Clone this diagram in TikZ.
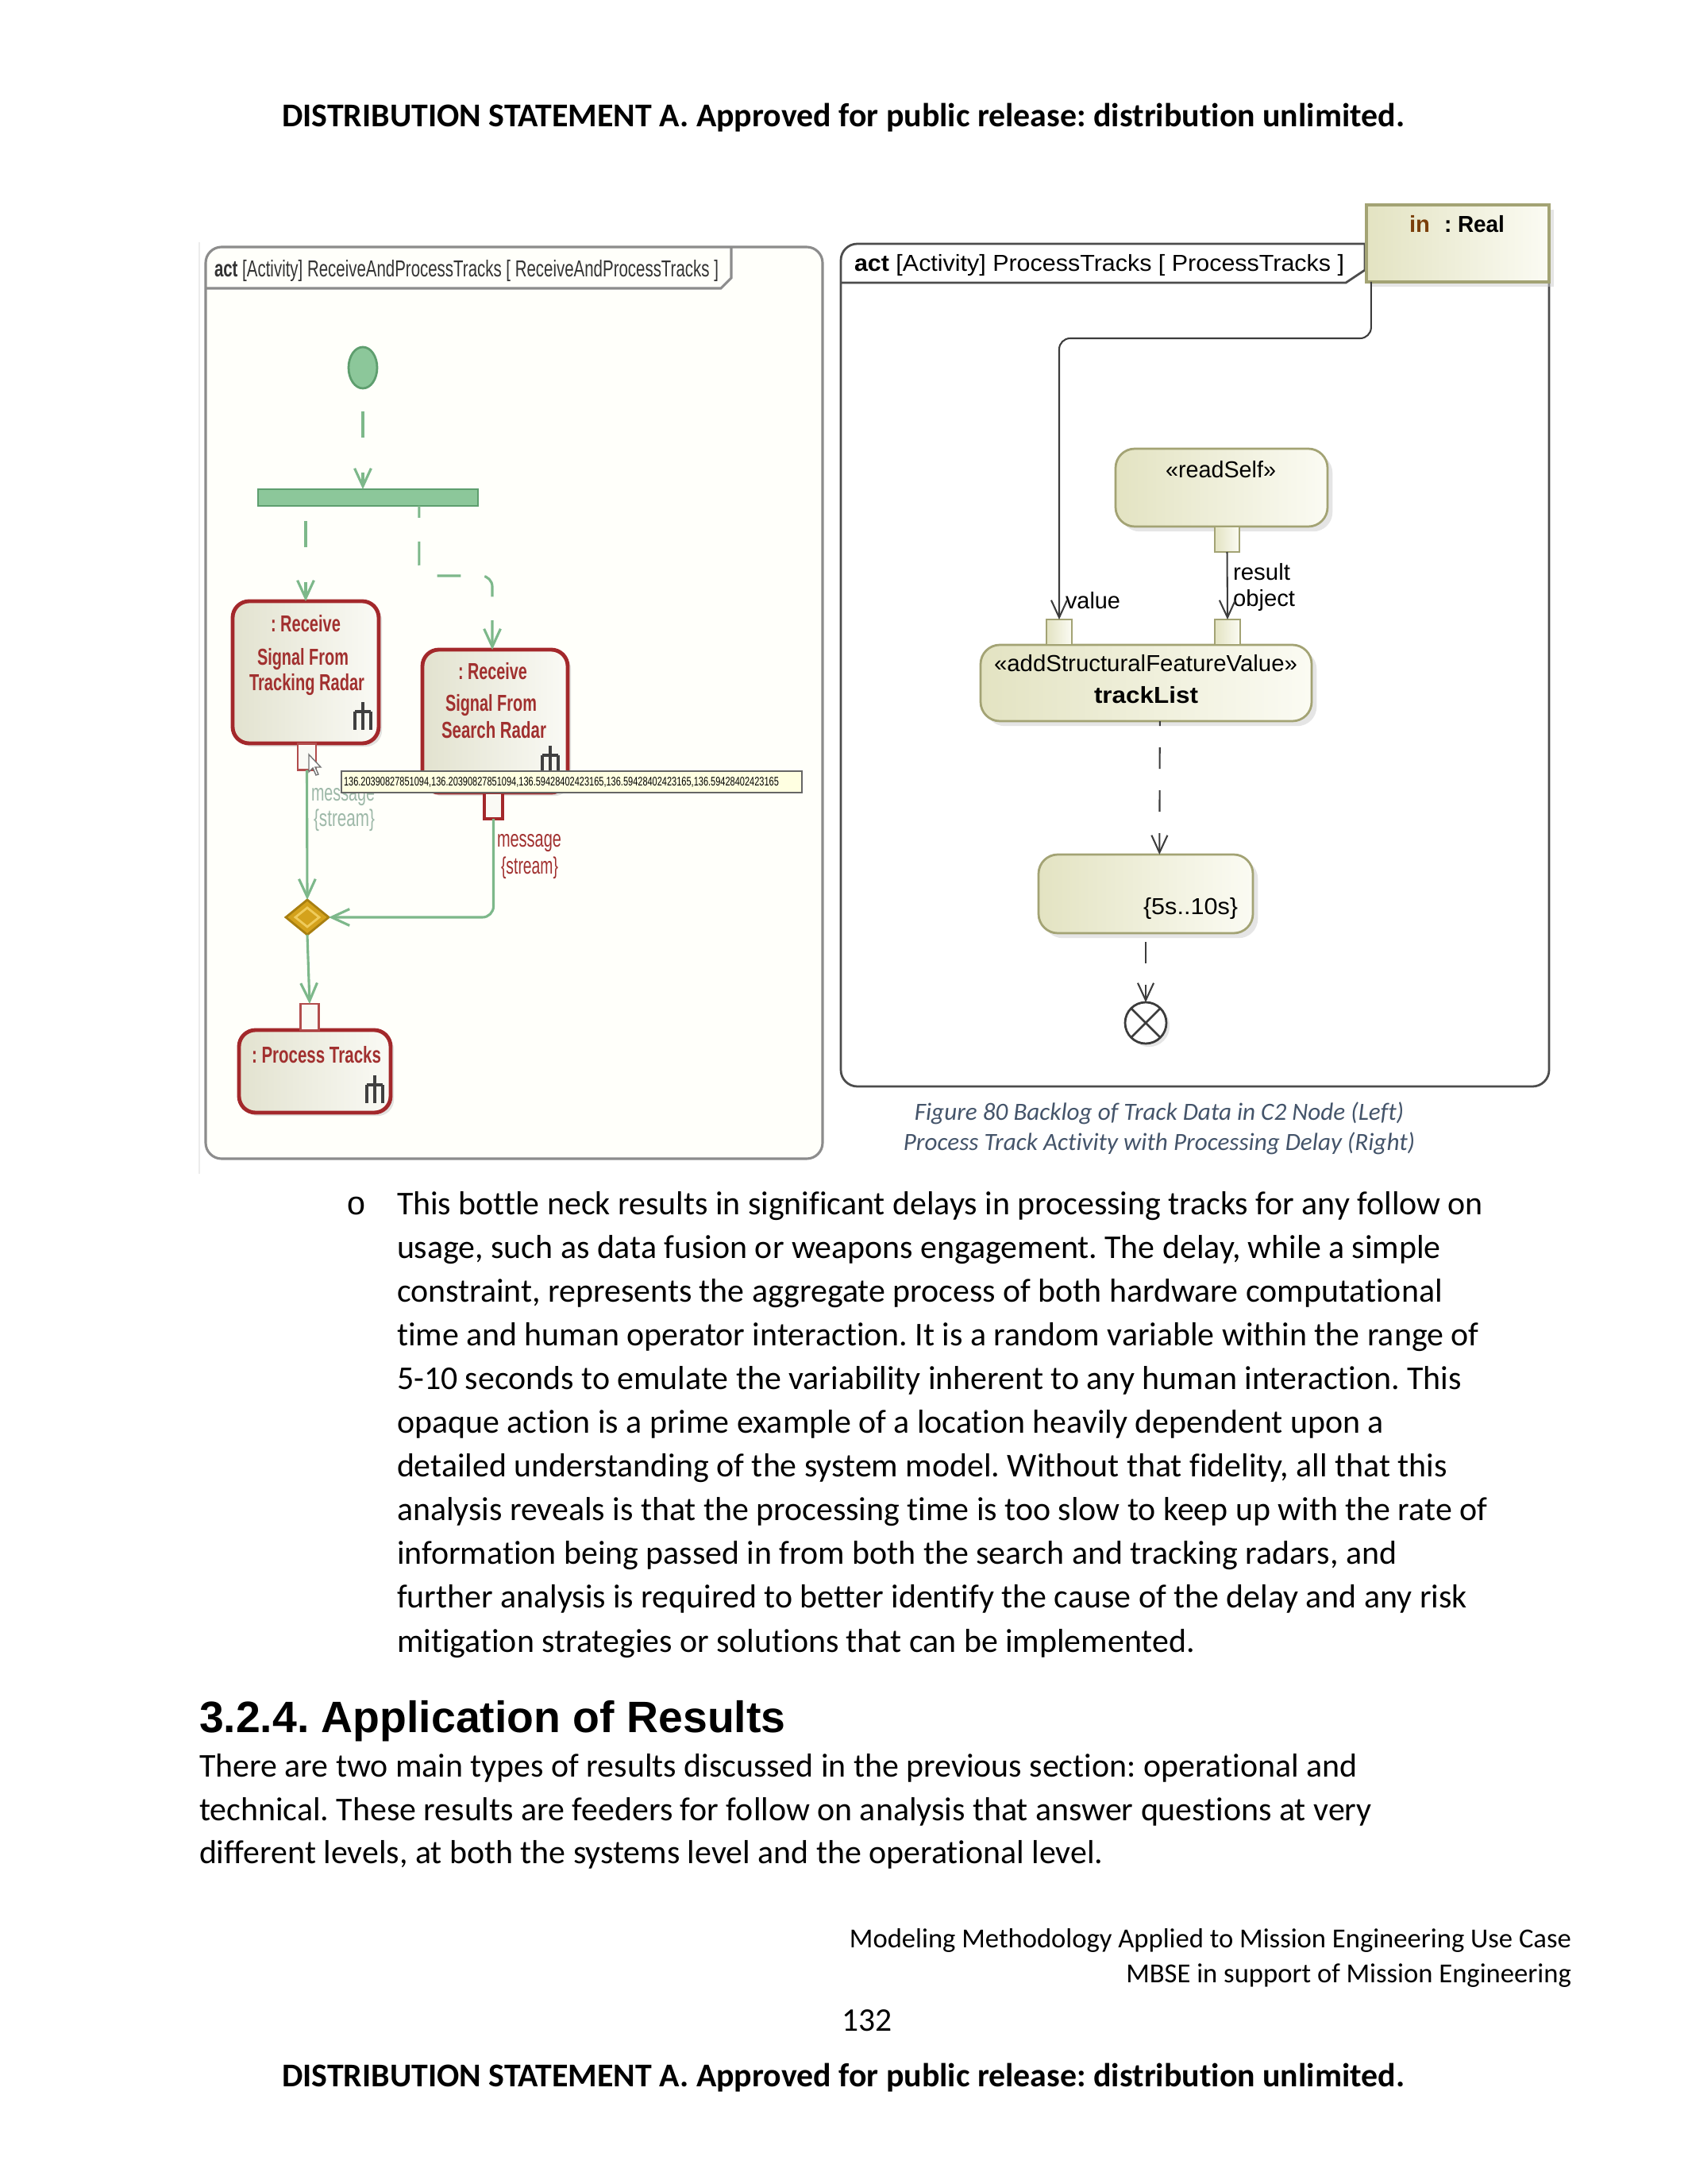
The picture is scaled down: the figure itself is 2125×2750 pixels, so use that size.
\documentclass[tikz,border=0pt]{standalone}
\usepackage{fontspec}
\usepackage{graphicx}
\setmainfont[Ligatures={NoCommon,NoContextual}]{Carlito}
\newfontfamily\arialf{Liberation Sans}
\newfontfamily\monof{Liberation Mono}
\usetikzlibrary{arrows.meta,shadows,shapes.geometric,calc}
\frenchspacing
\newlength{\pxu}\setlength{\pxu}{0.004in}
\newcommand{\fitw}[2]{\resizebox{#1\pxu}{\height}{#2}}
\definecolor{capblue}{HTML}{44546A}
\definecolor{lgreen}{HTML}{7DB88A}
\definecolor{dgreen}{HTML}{5E9E6E}
\definecolor{gfill}{HTML}{8CC79A}
\definecolor{rred}{HTML}{A3282B}
\definecolor{redtxt}{HTML}{A1302F}
\definecolor{olivec}{HTML}{A3A374}
\definecolor{beigec}{HTML}{E3E3C2}
\definecolor{lbeigec}{HTML}{FBFBF3}
\definecolor{lbox1}{HTML}{E2E2CF}
\definecolor{lbox2}{HTML}{FAFAF5}
\definecolor{flowgray}{HTML}{3C3C3C}
\definecolor{brownin}{HTML}{7A3E0A}
\definecolor{goldc}{HTML}{D4A21C}
\definecolor{goldd}{HTML}{A87F10}
\definecolor{goldl}{HTML}{EFCB5C}
\definecolor{ttfill}{HTML}{FFFFE1}
\definecolor{lframec}{HTML}{8C8C8C}
\definecolor{fadetxt}{HTML}{9DB8A8}
\newcommand{\rakeicon}[2]{\draw[draw=black!75, line width=1.1pt] (#1,#2-20) -- (#1,#2+15) (#1-10,#2-8) -- (#1+10,#2-8) (#1-10,#2-8) -- (#1-10,#2+15) (#1+10,#2-8) -- (#1+10,#2+15);}
\begin{document}
\begin{tikzpicture}[x=0.004in,y=-0.004in,
  every node/.style={inner sep=0pt, outer sep=0pt},
  bodytxt/.style={anchor=base west, font=\fontsize{12.1}{14}\selectfont},
  hdrtxt/.style={anchor=base, font=\bfseries\fontsize{12.1}{14}\selectfont},
  foottxt/.style={anchor=base east, font=\fontsize{10}{12}\selectfont},
  captxt/.style={anchor=base, text=capblue, font=\itshape\fontsize{9}{11}\selectfont},
  lframe/.style={draw=lframec, line width=0.9pt, fill=white!98!yellow, rounded corners=5.8pt},
  lact/.style={rectangle, draw=rred, line width=1.4pt, rounded corners=6pt, left color=lbox1, right color=lbox2,
     drop shadow={shadow xshift=1.2pt, shadow yshift=-1.2pt, fill=gray!45}},
  lpin/.style={rectangle, draw=gray!60!red, line width=0.8pt, fill=lbox2, minimum width=23\pxu, minimum height=33\pxu},
  lflow/.style={draw=lgreen, line width=0.9pt, -{Straight Barb[length=6.5pt,width=6pt,line width=0.9pt]}},
  ldash/.style={lflow, dash pattern=on 9.5pt off 12.7pt},
  lbxtxt/.style={anchor=base, text=redtxt, font=\arialf\bfseries\fontsize{8.4}{10}\selectfont},
  llab/.style={anchor=base west, font=\arialf\fontsize{8.6}{10}\selectfont},
  rframe/.style={draw=black!70, line width=0.8pt, rounded corners=6pt, fill=white},
  ract/.style={rectangle, draw=olivec, line width=0.8pt, rounded corners=7pt, left color=beigec, right color=lbeigec,
     drop shadow={shadow xshift=1.8pt, shadow yshift=-1.8pt, fill=gray!40}},
  rpin/.style={rectangle, draw=olivec, line width=0.8pt, left color=beigec, right color=lbeigec, minimum width=32\pxu, minimum height=32\pxu},
  rflow/.style={draw=flowgray, line width=0.6pt, -{Straight Barb[length=6.3pt,width=5.8pt,line width=0.6pt]}},
  rdash/.style={rflow, dash pattern=on 7.8pt off 7.8pt},
  rtxt/.style={anchor=base, font=\arialf\fontsize{8.4}{10}\selectfont},
  rlab/.style={anchor=base west, font=\arialf\fontsize{8.4}{10}\selectfont}
]
\useasboundingbox (0,0) rectangle (2125,2750);
\fill[white] (0,0) rectangle (2125,2750);

% ---------- header ----------
\node[hdrtxt] (hdr) at (1062,160) {DISTRIBUTION STATEMENT A. Approved for public release: distribution unlimited.};

% ---------- left diagram ----------
\draw[gray!15, line width=0.5pt] (251,305) -- (251,1478);
\node[lframe, minimum width=777\pxu, minimum height=1148\pxu] (lfr) at (647.5,885) {};
\draw[draw=lframec, line width=0.9pt] (lfr.west |- 0,363) -- (908,363) -- (921,350) -- (921,311);
\node[font=\arialf\fontsize{8.4}{10}\selectfont, text=black!80, anchor=base west] (ltab) at (270,349)
  {\fitw{635}{\textbf{act} [Activity] ReceiveAndProcessTracks [ ReceiveAndProcessTracks ]}};

\node[ellipse, fill=gfill, draw=dgreen, line width=0.8pt, minimum width=36\pxu, minimum height=52\pxu] (init) at (457,463) {};
\node[rectangle, fill=gfill, draw=dgreen, line width=0.5pt, minimum width=277\pxu, minimum height=21\pxu] (fork) at (463.5,626.5) {};

\node[lact, minimum width=184\pxu, minimum height=179\pxu] (b1) at (385,846.5) {};
\node[lact, minimum width=183\pxu, minimum height=180\pxu] (b2) at (623.5,908) {};
\node[lact, minimum width=191\pxu, minimum height=104\pxu] (b3) at (396.5,1349) {};

\node[lbxtxt] (b1a) at (385,795) {\fitw{88}{: Receive}};
\node[lbxtxt] (b1b) at (381.5,837) {\fitw{115}{Signal From}};
\node[lbxtxt] (b1c) at (386.5,869) {\fitw{145}{Tracking Radar}};
\node[lbxtxt] (b2a) at (620.5,855) {\fitw{87}{: Receive}};
\node[lbxtxt] (b2b) at (618.5,895) {\fitw{115}{Signal From}};
\node[lbxtxt] (b2c) at (622,929) {\fitw{132}{Search Radar}};
\node[lbxtxt] (b3a) at (398.5,1338) {\fitw{163}{: Process Tracks}};
\rakeicon{457}{904}
\rakeicon{693}{959}
\rakeicon{472}{1374}

\node[lpin] (p1) at (386.5,953) {};
\node[lpin, draw=rred, line width=1.2pt] (p2) at (621.5,1014.5) {};
\node[lpin] (p3) at (390,1280.5) {};

\node[diamond, fill=goldc, draw=goldd, line width=0.8pt, minimum width=54\pxu, minimum height=44\pxu] (dec) at (387,1155) {};
\node[diamond, draw=goldl, line width=0.8pt, minimum width=30\pxu, minimum height=24\pxu] (decin) at (387,1155) {};

\draw[ldash, dash phase=13.8pt] (init.south) -- (fork.north -| init.south);
\draw[ldash, dash phase=16.7pt] (fork.south -| b1.north) -- (b1.north);
\draw[ldash, dash pattern=on 8.64pt off 8.64pt, dash phase=4.32pt, rounded corners=4pt] ([xshift=18.6pt]fork.south) -- ++(0,88) -| ([xshift=-1pt]b2.north);
\draw[lflow] (p1.south) -- (dec.north);
\draw[lflow, rounded corners=4pt] (p2.south) |- (dec.east);
\draw[lflow] (dec.south) -- (p3.north);

\node[llab, text=fadetxt] (m1a) at (392,1008) {\fitw{80}{message}};
\node[llab, text=fadetxt] (m1b) at (395,1040) {\fitw{77}{\{stream\}}};
\node[llab, text=redtxt] (m2a) at (626,1066) {\fitw{81}{message}};
\node[llab, text=redtxt] (m2b) at (631,1100) {\fitw{72}{\{stream\}}};

\node[rectangle, fill=ttfill, draw=black!60, line width=0.5pt, minimum width=580\pxu, minimum height=27\pxu] (tt) at (720,984.5) {};
\node[font=\arialf\fontsize{4.5}{5}\selectfont, anchor=west] (ttt) at (433,985)
  {\fitw{548}{136.20390827851094,136.20390827851094,136.59428402423165,136.59428402423165,136.59428402423165}};
\draw[fill=white, draw=black!55, line width=0.4pt] (389,950) -- (389,972) -- (394,967) -- (398,976) -- (401,975) -- (397,966) -- (404,966) -- cycle;

% ---------- right diagram ----------
\node[rframe, minimum width=892\pxu, minimum height=1061\pxu] (rfr) at (1505,837.5) {};
\draw[draw=black!70, line width=0.8pt] (1059,356) -- (1695,356) -- (1719,340) -- (1719,307);
\node[rtxt, anchor=base west] (rtab) at (1076,342)
  {\fitw{617}{\textbf{act} [Activity] ProcessTracks [ ProcessTracks ]}};
\node[rectangle, draw=olivec, line width=1pt, left color=beigec, right color=lbeigec,
  minimum width=230\pxu, minimum height=97\pxu,
  drop shadow={shadow xshift=1.6pt, shadow yshift=-1.6pt, fill=gray!40}] (inpin) at (1836,306.5) {};
\node[rtxt, anchor=base west, text=brownin] (intx) at (1775,293) {\fitw{26}{\textbf{in}}};
\node[rtxt, anchor=base west] (realtx) at (1819,293) {\fitw{76}{\textbf{: Real}}};

\node[ract, minimum width=267\pxu, minimum height=98\pxu] (rs) at (1538.5,614) {};
\node[rpin, minimum width=31\pxu] (rsp) at (1545.5,679) {};
\node[ract, minimum width=417\pxu, minimum height=96\pxu] (asf) at (1443.5,860) {};
\node[rpin] (pv) at (1334,796) {};
\node[rpin] (pobj) at (1546,796) {};
\node[ract, minimum width=270\pxu, minimum height=99\pxu] (ob) at (1443,1125.5) {};
\node[circle, draw=flowgray, line width=0.8pt, fill=white, minimum size=52\pxu,
  drop shadow={shadow xshift=1.2pt, shadow yshift=-1.2pt, fill=gray!40}] (ff) at (1443,1288) {};
\draw[flowgray, line width=0.8pt] (ff.north west) -- (ff.south east) (ff.north east) -- (ff.south west);

\node[rtxt] (rst) at (1537.5,602) {\fitw{139}{«readSelf»}};
\node[rtxt] (asft) at (1443,845) {\fitw{382}{«addStructuralFeatureValue»}};
\node[rtxt] (tlt) at (1443.5,885) {\fitw{131}{\textbf{trackList}}};
\node[rlab] (obt) at (1440,1151) {\fitw{119}{\{5s..10s\}}};
\node[rlab] (vlab) at (1342,766) {\fitw{69}{value}};
\node[rlab] (rlab1) at (1553,730) {\fitw{72}{result}};
\node[rlab] (rlab2) at (1553,764) {\fitw{78}{object}};

\draw[rflow, rounded corners=4pt] ([xshift=1.7pt]inpin.south west) -- ++(0,71) -| (pv.north);
\draw[rflow] (rsp.south) -- (pobj.north);
\draw[rdash, dash phase=6pt] ([xshift=5pt]asf.south) -- ([xshift=5pt]ob.north);
\draw[rdash, dash phase=12.4pt] (ob.south) -- (ff.north);

% ---------- caption ----------
\node[captxt] (cap1) at (1460,1410) {Figure 80 Backlog of Track Data in C2 Node (Left)};
\node[captxt] (cap2) at (1460,1448) {Process Track Activity with Processing Delay (Right)};

% ---------- bullet text ----------
\node[anchor=base, font=\monof\fontsize{12}{14}\selectfont] (bul) at (449,1529) {o};
\node[bodytxt] (l1) at (500,1529) {This bottle neck results in significant delays in processing tracks for any follow on};
\node[bodytxt] (l2) at (500,1584) {usage, such as data fusion or weapons engagement. The delay, while a simple};
\node[bodytxt] (l3) at (500,1639) {constraint, represents the aggregate process of both hardware computational};
\node[bodytxt] (l4) at (500,1694) {time and human operator interaction. It is a random variable within the range of};
\node[bodytxt] (l5) at (500,1749) {5-10 seconds to emulate the variability inherent to any human interaction. This};
\node[bodytxt] (l6) at (500,1804) {opaque action is a prime example of a location heavily dependent upon a};
\node[bodytxt] (l7) at (500,1859) {detailed understanding of the system model. Without that fidelity, all that this};
\node[bodytxt] (l8) at (500,1914) {analysis reveals is that the processing time is too slow to keep up with the rate of};
\node[bodytxt] (l9) at (500,1969) {information being passed in from both the search and tracking radars, and};
\node[bodytxt] (l10) at (500,2024) {further analysis is required to better identify the cause of the delay and any risk};
\node[bodytxt] (l11) at (500,2080) {mitigation strategies or solutions that can be implemented.};

% ---------- heading and paragraph ----------
\node[anchor=base west, font=\arialf\bfseries\fontsize{16}{19}\selectfont] (head) at (251,2181) {3.2.4. Application of Results};
\node[bodytxt] (q1) at (251,2237) {There are two main types of results discussed in the previous section: operational and};
\node[bodytxt] (q2) at (251,2292) {technical. These results are feeders for follow on analysis that answer questions at very};
\node[bodytxt] (q3) at (251,2346) {different levels, at both the systems level and the operational level.};

% ---------- footer ----------
\node[foottxt] (f1) at (1979,2452) {Modeling Methodology Applied to Mission Engineering Use Case};
\node[foottxt] (f2) at (1979,2496) {MBSE in support of Mission Engineering};
\node[anchor=base, font=\fontsize{12}{14}\selectfont] (pg) at (1092,2557) {132};
\node[hdrtxt] (ftr) at (1062,2627) {DISTRIBUTION STATEMENT A. Approved for public release: distribution unlimited.};
\end{tikzpicture}
\end{document}
